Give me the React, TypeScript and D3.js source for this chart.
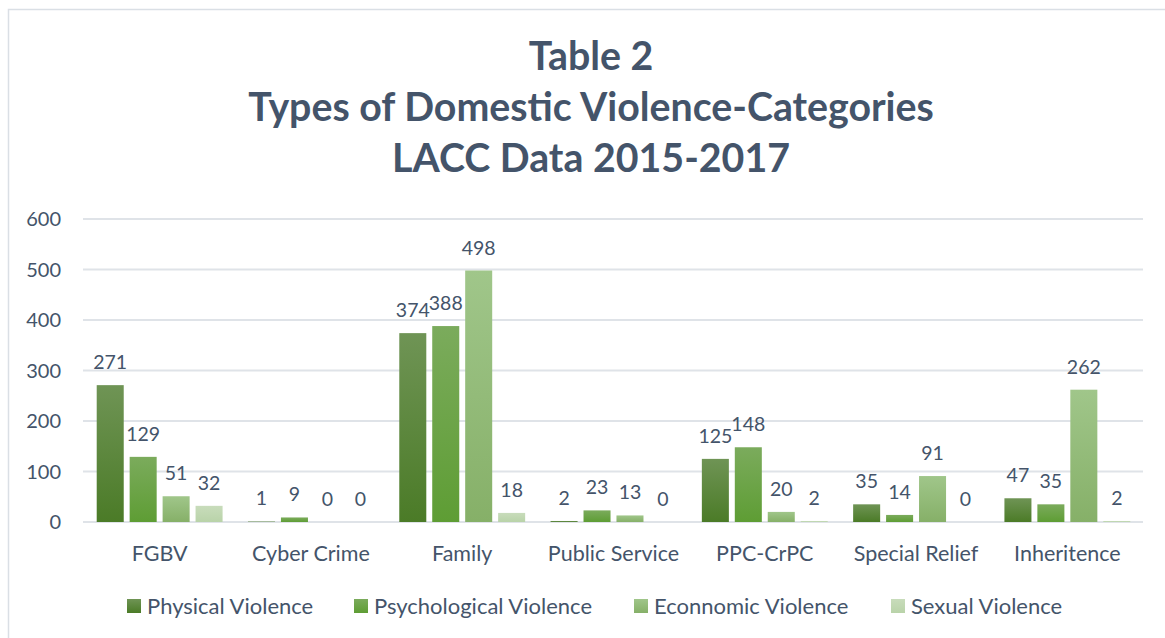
import React from "react";
import * as d3 from "d3";

const titleLines = ["Table 2", "Types of Domestic Violence-Categories", "LACC Data 2015-2017"];
const categories = ["FGBV", "Cyber Crime", "Family", "Public Service", "PPC-CrPC", "Special Relief", "Inheritence"];
const seriesNames = ["Physical Violence", "Psychological Violence", "Econnomic Violence", "Sexual Violence"];
const physical = [271, 1, 374, 2, 125, 35, 47];
const psychological = [129, 9, 388, 23, 148, 14, 35];
const economic = [51, 0, 498, 13, 20, 91, 262];
const sexual = [32, 0, 18, 0, 2, 0, 2];
const yTicks = [0, 100, 200, 300, 400, 500, 600];

const seriesValues = [physical, psychological, economic, sexual];
const gradients = [
  ["#6f9455", "#4b7b27"],
  ["#7bab5c", "#5e9d34"],
  ["#a0c68a", "#86b068"],
  ["#c8dcbb", "#b9d3a9"],
];

const FONT = "Lato, 'Open Sans', sans-serif";
const TEXT = "#44546a";

export default function App() {
  const W = 1165, H = 638;
  const left = 84, right = 1143, top = 219, bottom = 522;
  const y = d3.scaleLinear().domain([0, 600]).range([bottom, top]);
  const x0 = d3.scaleBand<string>().domain(categories).range([left, right]).paddingInner(0.168).paddingOuter(0.084);
  const x1 = d3.scaleBand<string>().domain(seriesNames).range([0, x0.bandwidth()]).paddingInner(0.18).paddingOuter(0);

  const legendX = [127, 354, 634, 891];

  return (
    <svg width={W} height={H} style={{ position: "absolute", left: 0, top: 0 }} fontFamily={FONT}>
      <defs>
        {gradients.map((g, i) => (
          <linearGradient key={i} id={`grad${i}`} x1="0" y1="0" x2="0" y2="1">
            <stop offset="0%" stopColor={g[0]} />
            <stop offset="100%" stopColor={g[1]} />
          </linearGradient>
        ))}
      </defs>
      <rect x={0} y={0} width={W} height={H} fill="#ffffff" />
      <path d={`M8.5,${H} L8.5,9.5 L${W},9.5`} fill="none" stroke="#dadfe5" strokeWidth={1.5} />

      {titleLines.map((t, i) => (
        <text key={i} x={591} y={70 + i * 51} textAnchor="middle" fontSize={39.3} fontWeight={700} fill={TEXT}>
          {t}
        </text>
      ))}

      {yTicks.map((t) => (
        <g key={t}>
          <line x1={left - 1} x2={right} y1={y(t)} y2={y(t)} stroke="#dfe3e8" strokeWidth={2} />
          <text x={61} y={y(t)} dy="0.36em" textAnchor="end" fontSize={20} fill={TEXT}>
            {t}
          </text>
        </g>
      ))}

      {categories.map((c, ci) => (
        <g key={c} transform={`translate(${x0(c)},0)`}>
          {seriesNames.map((s, si) => {
            const v = seriesValues[si][ci];
            const bx = x1(s)!;
            const by = y(v);
            return (
              <g key={s}>
                {v > 0 && (
                  <rect x={bx} y={by} width={x1.bandwidth()} height={bottom - by} fill={`url(#grad${si})`} />
                )}
                <text x={bx + x1.bandwidth() / 2} y={by - 16} textAnchor="middle" fontSize={19.5} fill={TEXT}>
                  {v}
                </text>
              </g>
            );
          })}
          <text x={x0.bandwidth() / 2} y={553} dy="0.36em" textAnchor="middle" fontSize={21.5} fill={TEXT}>
            {c}
          </text>
        </g>
      ))}

      {seriesNames.map((s, i) => (
        <g key={s} transform={`translate(${legendX[i]},0)`}>
          <rect x={0} y={599} width={14} height={14} fill={`url(#grad${i})`} />
          <text x={20} y={606} dy="0.36em" fontSize={22} fill={TEXT}>
            {s}
          </text>
        </g>
      ))}
    </svg>
  );
}
